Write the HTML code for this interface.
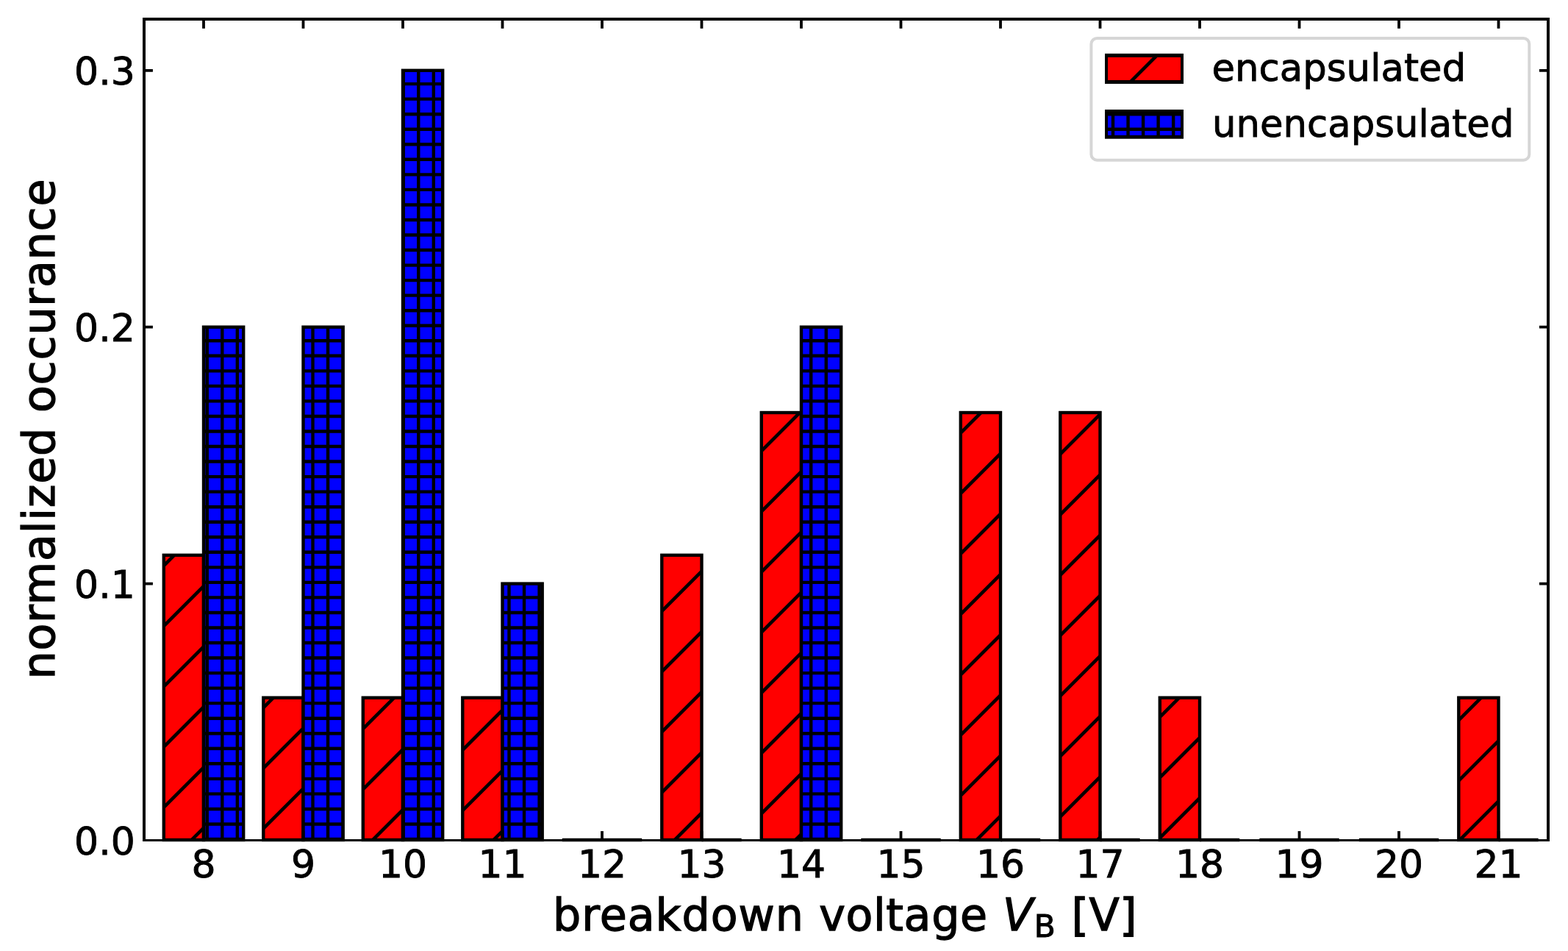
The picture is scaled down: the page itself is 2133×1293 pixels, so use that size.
<!DOCTYPE html>
<html><head><meta charset="utf-8"><title>breakdown voltage histogram</title>
<style>html,body{margin:0;padding:0;background:#fff;overflow:hidden}svg{display:block}</style>
</head><body>
<svg width="2133" height="1293" viewBox="0 0 2133 1293" font-family="'DejaVu Sans', 'Liberation Sans', sans-serif" font-size="52">
<defs><clipPath id="c1"><rect x="222.8" y="754.83" width="54.2" height="387.17"/></clipPath><clipPath id="c2"><rect x="358.3" y="948.67" width="54.2" height="193.33"/></clipPath><clipPath id="c3"><rect x="493.8" y="948.67" width="54.2" height="193.33"/></clipPath><clipPath id="c4"><rect x="629.3" y="948.67" width="54.2" height="193.33"/></clipPath><clipPath id="c5"><rect x="900.3" y="754.83" width="54.2" height="387.17"/></clipPath><clipPath id="c6"><rect x="1035.8" y="561" width="54.2" height="581"/></clipPath><clipPath id="c7"><rect x="1306.8" y="561" width="54.2" height="581"/></clipPath><clipPath id="c8"><rect x="1442.3" y="561" width="54.2" height="581"/></clipPath><clipPath id="c9"><rect x="1577.8" y="948.67" width="54.2" height="193.33"/></clipPath><clipPath id="c10"><rect x="1984.3" y="948.67" width="54.2" height="193.33"/></clipPath><clipPath id="c11"><rect x="277" y="444.7" width="54.2" height="697.3"/></clipPath><clipPath id="c12"><rect x="412.5" y="444.7" width="54.2" height="697.3"/></clipPath><clipPath id="c13"><rect x="548" y="95.8" width="54.2" height="1046.2"/></clipPath><clipPath id="c14"><rect x="683.5" y="793.6" width="54.2" height="348.4"/></clipPath><clipPath id="c15"><rect x="1090" y="444.7" width="54.2" height="697.3"/></clipPath><clipPath id="c16"><rect x="1507" y="77.85" width="99" height="31.1"/></clipPath><clipPath id="c17"><rect x="1507" y="154" width="99" height="29.9"/></clipPath></defs>
<rect width="2133" height="1293" fill="#fff"/>
<rect x="222.8" y="754.83" width="54.2" height="387.17" fill="#ff0000"/>
<path clip-path="url(#c1)" d="M216.8 775.1L283 708.9M216.8 857.25L283 791.05M216.8 939.4L283 873.2M216.8 1021.55L283 955.35M216.8 1103.7L283 1037.5M216.8 1185.85L283 1119.65" stroke="#000" stroke-width="4.6" fill="none"/>
<rect x="222.8" y="754.83" width="54.2" height="387.17" fill="none" stroke="#000" stroke-width="4.4" stroke-linejoin="miter"/>
<rect x="358.3" y="948.67" width="54.2" height="193.33" fill="#ff0000"/>
<path clip-path="url(#c2)" d="M352.3 968.2L418.5 902M352.3 1050.35L418.5 984.15M352.3 1132.5L418.5 1066.3" stroke="#000" stroke-width="4.6" fill="none"/>
<rect x="358.3" y="948.67" width="54.2" height="193.33" fill="none" stroke="#000" stroke-width="4.4" stroke-linejoin="miter"/>
<rect x="493.8" y="948.67" width="54.2" height="193.33" fill="#ff0000"/>
<path clip-path="url(#c3)" d="M487.8 997L554 930.8M487.8 1079.15L554 1012.95M487.8 1161.3L554 1095.1" stroke="#000" stroke-width="4.6" fill="none"/>
<rect x="493.8" y="948.67" width="54.2" height="193.33" fill="none" stroke="#000" stroke-width="4.4" stroke-linejoin="miter"/>
<rect x="629.3" y="948.67" width="54.2" height="193.33" fill="#ff0000"/>
<path clip-path="url(#c4)" d="M623.3 1025.8L689.5 959.6M623.3 1107.95L689.5 1041.75M623.3 1190.1L689.5 1123.9" stroke="#000" stroke-width="4.6" fill="none"/>
<rect x="629.3" y="948.67" width="54.2" height="193.33" fill="none" stroke="#000" stroke-width="4.4" stroke-linejoin="miter"/>
<path d="M764.8 1142H819" stroke="#000" stroke-width="4.4" fill="none"/>
<rect x="900.3" y="754.83" width="54.2" height="387.17" fill="#ff0000"/>
<path clip-path="url(#c5)" d="M894.3 836.95L960.5 770.75M894.3 919.1L960.5 852.9M894.3 1001.25L960.5 935.05M894.3 1083.4L960.5 1017.2M894.3 1165.55L960.5 1099.35" stroke="#000" stroke-width="4.6" fill="none"/>
<rect x="900.3" y="754.83" width="54.2" height="387.17" fill="none" stroke="#000" stroke-width="4.4" stroke-linejoin="miter"/>
<rect x="1035.8" y="561" width="54.2" height="581" fill="#ff0000"/>
<path clip-path="url(#c6)" d="M1029.8 619.3L1096 553.1M1029.8 701.45L1096 635.25M1029.8 783.6L1096 717.4M1029.8 865.75L1096 799.55M1029.8 947.9L1096 881.7M1029.8 1030.05L1096 963.85M1029.8 1112.2L1096 1046M1029.8 1194.35L1096 1128.15" stroke="#000" stroke-width="4.6" fill="none"/>
<rect x="1035.8" y="561" width="54.2" height="581" fill="none" stroke="#000" stroke-width="4.4" stroke-linejoin="miter"/>
<path d="M1171.3 1142H1225.5" stroke="#000" stroke-width="4.4" fill="none"/>
<rect x="1306.8" y="561" width="54.2" height="581" fill="#ff0000"/>
<path clip-path="url(#c7)" d="M1300.8 594.75L1367 528.55M1300.8 676.9L1367 610.7M1300.8 759.05L1367 692.85M1300.8 841.2L1367 775M1300.8 923.35L1367 857.15M1300.8 1005.5L1367 939.3M1300.8 1087.65L1367 1021.45M1300.8 1169.8L1367 1103.6" stroke="#000" stroke-width="4.6" fill="none"/>
<rect x="1306.8" y="561" width="54.2" height="581" fill="none" stroke="#000" stroke-width="4.4" stroke-linejoin="miter"/>
<rect x="1442.3" y="561" width="54.2" height="581" fill="#ff0000"/>
<path clip-path="url(#c8)" d="M1436.3 623.55L1502.5 557.35M1436.3 705.7L1502.5 639.5M1436.3 787.85L1502.5 721.65M1436.3 870L1502.5 803.8M1436.3 952.15L1502.5 885.95M1436.3 1034.3L1502.5 968.1M1436.3 1116.45L1502.5 1050.25M1436.3 1198.6L1502.5 1132.4" stroke="#000" stroke-width="4.6" fill="none"/>
<rect x="1442.3" y="561" width="54.2" height="581" fill="none" stroke="#000" stroke-width="4.4" stroke-linejoin="miter"/>
<rect x="1577.8" y="948.67" width="54.2" height="193.33" fill="#ff0000"/>
<path clip-path="url(#c9)" d="M1571.8 980.95L1638 914.75M1571.8 1063.1L1638 996.9M1571.8 1145.25L1638 1079.05" stroke="#000" stroke-width="4.6" fill="none"/>
<rect x="1577.8" y="948.67" width="54.2" height="193.33" fill="none" stroke="#000" stroke-width="4.4" stroke-linejoin="miter"/>
<path d="M1713.3 1142H1767.5" stroke="#000" stroke-width="4.4" fill="none"/>
<path d="M1848.8 1142H1903" stroke="#000" stroke-width="4.4" fill="none"/>
<rect x="1984.3" y="948.67" width="54.2" height="193.33" fill="#ff0000"/>
<path clip-path="url(#c10)" d="M1978.3 985.2L2044.5 919M1978.3 1067.35L2044.5 1001.15M1978.3 1149.5L2044.5 1083.3" stroke="#000" stroke-width="4.6" fill="none"/>
<rect x="1984.3" y="948.67" width="54.2" height="193.33" fill="none" stroke="#000" stroke-width="4.4" stroke-linejoin="miter"/>
<rect x="277" y="444.7" width="54.2" height="697.3" fill="#0000ff"/>
<path clip-path="url(#c11)" d="M281.75 441.7V1145M302.29 441.7V1145M322.82 441.7V1145M274 442.73H334.2M274 463.26H334.2M274 483.8H334.2M274 504.34H334.2M274 524.88H334.2M274 545.41H334.2M274 565.95H334.2M274 586.49H334.2M274 607.03H334.2M274 627.56H334.2M274 648.1H334.2M274 668.64H334.2M274 689.18H334.2M274 709.71H334.2M274 730.25H334.2M274 750.79H334.2M274 771.33H334.2M274 791.86H334.2M274 812.4H334.2M274 832.94H334.2M274 853.48H334.2M274 874.01H334.2M274 894.55H334.2M274 915.09H334.2M274 935.62H334.2M274 956.16H334.2M274 976.7H334.2M274 997.24H334.2M274 1017.78H334.2M274 1038.31H334.2M274 1058.85H334.2M274 1079.39H334.2M274 1099.93H334.2M274 1120.46H334.2M274 1141H334.2" stroke="#000" stroke-width="4.4" fill="none"/>
<rect x="277" y="444.7" width="54.2" height="697.3" fill="none" stroke="#000" stroke-width="4.4" stroke-linejoin="miter"/>
<rect x="412.5" y="444.7" width="54.2" height="697.3" fill="#0000ff"/>
<path clip-path="url(#c12)" d="M425.51 441.7V1145M446.05 441.7V1145M466.59 441.7V1145M409.5 442.73H469.7M409.5 463.26H469.7M409.5 483.8H469.7M409.5 504.34H469.7M409.5 524.88H469.7M409.5 545.41H469.7M409.5 565.95H469.7M409.5 586.49H469.7M409.5 607.03H469.7M409.5 627.56H469.7M409.5 648.1H469.7M409.5 668.64H469.7M409.5 689.18H469.7M409.5 709.71H469.7M409.5 730.25H469.7M409.5 750.79H469.7M409.5 771.33H469.7M409.5 791.86H469.7M409.5 812.4H469.7M409.5 832.94H469.7M409.5 853.48H469.7M409.5 874.01H469.7M409.5 894.55H469.7M409.5 915.09H469.7M409.5 935.62H469.7M409.5 956.16H469.7M409.5 976.7H469.7M409.5 997.24H469.7M409.5 1017.78H469.7M409.5 1038.31H469.7M409.5 1058.85H469.7M409.5 1079.39H469.7M409.5 1099.93H469.7M409.5 1120.46H469.7M409.5 1141H469.7" stroke="#000" stroke-width="4.4" fill="none"/>
<rect x="412.5" y="444.7" width="54.2" height="697.3" fill="none" stroke="#000" stroke-width="4.4" stroke-linejoin="miter"/>
<rect x="548" y="95.8" width="54.2" height="1046.2" fill="#0000ff"/>
<path clip-path="url(#c13)" d="M548.74 92.8V1145M569.28 92.8V1145M589.81 92.8V1145M545 93.59H605.2M545 114.12H605.2M545 134.66H605.2M545 155.2H605.2M545 175.74H605.2M545 196.28H605.2M545 216.81H605.2M545 237.35H605.2M545 257.89H605.2M545 278.43H605.2M545 298.96H605.2M545 319.5H605.2M545 340.04H605.2M545 360.58H605.2M545 381.11H605.2M545 401.65H605.2M545 422.19H605.2M545 442.73H605.2M545 463.26H605.2M545 483.8H605.2M545 504.34H605.2M545 524.88H605.2M545 545.41H605.2M545 565.95H605.2M545 586.49H605.2M545 607.03H605.2M545 627.56H605.2M545 648.1H605.2M545 668.64H605.2M545 689.18H605.2M545 709.71H605.2M545 730.25H605.2M545 750.79H605.2M545 771.33H605.2M545 791.86H605.2M545 812.4H605.2M545 832.94H605.2M545 853.48H605.2M545 874.01H605.2M545 894.55H605.2M545 915.09H605.2M545 935.62H605.2M545 956.16H605.2M545 976.7H605.2M545 997.24H605.2M545 1017.78H605.2M545 1038.31H605.2M545 1058.85H605.2M545 1079.39H605.2M545 1099.93H605.2M545 1120.46H605.2M545 1141H605.2" stroke="#000" stroke-width="4.4" fill="none"/>
<rect x="548" y="95.8" width="54.2" height="1046.2" fill="none" stroke="#000" stroke-width="4.4" stroke-linejoin="miter"/>
<rect x="683.5" y="793.6" width="54.2" height="348.4" fill="#0000ff"/>
<path clip-path="url(#c14)" d="M692.5 790.6V1145M713.04 790.6V1145M733.58 790.6V1145M680.5 791.86H740.7M680.5 812.4H740.7M680.5 832.94H740.7M680.5 853.48H740.7M680.5 874.01H740.7M680.5 894.55H740.7M680.5 915.09H740.7M680.5 935.62H740.7M680.5 956.16H740.7M680.5 976.7H740.7M680.5 997.24H740.7M680.5 1017.78H740.7M680.5 1038.31H740.7M680.5 1058.85H740.7M680.5 1079.39H740.7M680.5 1099.93H740.7M680.5 1120.46H740.7M680.5 1141H740.7" stroke="#000" stroke-width="4.4" fill="none"/>
<rect x="683.5" y="793.6" width="54.2" height="348.4" fill="none" stroke="#000" stroke-width="4.4" stroke-linejoin="miter"/>
<path d="M819 1142H873.2" stroke="#000" stroke-width="4.4" fill="none"/>
<path d="M954.5 1142H1008.7" stroke="#000" stroke-width="4.4" fill="none"/>
<rect x="1090" y="444.7" width="54.2" height="697.3" fill="#0000ff"/>
<path clip-path="url(#c15)" d="M1103.25 441.7V1145M1123.79 441.7V1145M1144.33 441.7V1145M1087 442.73H1147.2M1087 463.26H1147.2M1087 483.8H1147.2M1087 504.34H1147.2M1087 524.88H1147.2M1087 545.41H1147.2M1087 565.95H1147.2M1087 586.49H1147.2M1087 607.03H1147.2M1087 627.56H1147.2M1087 648.1H1147.2M1087 668.64H1147.2M1087 689.18H1147.2M1087 709.71H1147.2M1087 730.25H1147.2M1087 750.79H1147.2M1087 771.33H1147.2M1087 791.86H1147.2M1087 812.4H1147.2M1087 832.94H1147.2M1087 853.48H1147.2M1087 874.01H1147.2M1087 894.55H1147.2M1087 915.09H1147.2M1087 935.62H1147.2M1087 956.16H1147.2M1087 976.7H1147.2M1087 997.24H1147.2M1087 1017.78H1147.2M1087 1038.31H1147.2M1087 1058.85H1147.2M1087 1079.39H1147.2M1087 1099.93H1147.2M1087 1120.46H1147.2M1087 1141H1147.2" stroke="#000" stroke-width="4.4" fill="none"/>
<rect x="1090" y="444.7" width="54.2" height="697.3" fill="none" stroke="#000" stroke-width="4.4" stroke-linejoin="miter"/>
<path d="M1225.5 1142H1279.7" stroke="#000" stroke-width="4.4" fill="none"/>
<path d="M1361 1142H1415.2" stroke="#000" stroke-width="4.4" fill="none"/>
<path d="M1496.5 1142H1550.7" stroke="#000" stroke-width="4.4" fill="none"/>
<path d="M1632 1142H1686.2" stroke="#000" stroke-width="4.4" fill="none"/>
<path d="M1767.5 1142H1821.7" stroke="#000" stroke-width="4.4" fill="none"/>
<path d="M1903 1142H1957.2" stroke="#000" stroke-width="4.4" fill="none"/>
<path d="M2038.5 1142H2092.7" stroke="#000" stroke-width="4.4" fill="none"/>
<rect x="194" y="24" width="4" height="1120" fill="#000"/>
<rect x="2104" y="24" width="4" height="1120" fill="#000"/>
<rect x="194" y="24" width="1914" height="4" fill="#000"/>
<rect x="194" y="1141" width="1914" height="3" fill="#000"/>
<path d="M277 26V38.8M277 1142.5V1130.05M412.5 26V38.8M412.5 1142.5V1130.05M548 26V38.8M548 1142.5V1130.05M683.5 26V38.8M683.5 1142.5V1130.05M819 26V38.8M819 1142.5V1130.05M954.5 26V38.8M954.5 1142.5V1130.05M1090 26V38.8M1090 1142.5V1130.05M1225.5 26V38.8M1225.5 1142.5V1130.05M1361 26V38.8M1361 1142.5V1130.05M1496.5 26V38.8M1496.5 1142.5V1130.05M1632 26V38.8M1632 1142.5V1130.05M1767.5 26V38.8M1767.5 1142.5V1130.05M1903 26V38.8M1903 1142.5V1130.05M2038.5 26V38.8M2038.5 1142.5V1130.05M196 793.6H207.9M2106 793.6H2093.95M196 444.7H207.9M2106 444.7H2093.95M196 95.8H207.9M2106 95.8H2093.95" stroke="#000" stroke-width="3.8" fill="none"/>
<g stroke="#000" stroke-width="0.9"><text x="277" y="1192.6" text-anchor="middle">8</text>
<text x="412.5" y="1192.6" text-anchor="middle">9</text>
<text x="548" y="1192.6" text-anchor="middle">10</text>
<text x="683.5" y="1192.6" text-anchor="middle">11</text>
<text x="819" y="1192.6" text-anchor="middle">12</text>
<text x="954.5" y="1192.6" text-anchor="middle">13</text>
<text x="1090" y="1192.6" text-anchor="middle">14</text>
<text x="1225.5" y="1192.6" text-anchor="middle">15</text>
<text x="1361" y="1192.6" text-anchor="middle">16</text>
<text x="1496.5" y="1192.6" text-anchor="middle">17</text>
<text x="1632" y="1192.6" text-anchor="middle">18</text>
<text x="1767.5" y="1192.6" text-anchor="middle">19</text>
<text x="1903" y="1192.6" text-anchor="middle">20</text>
<text x="2038.5" y="1192.6" text-anchor="middle">21</text>
<text x="183.75" y="1161.5" text-anchor="end">0.0</text>
<text x="183.75" y="812.6" text-anchor="end">0.1</text>
<text x="183.75" y="463.7" text-anchor="end">0.2</text>
<text x="183.75" y="114.8" text-anchor="end">0.3</text></g>
<text x="752.07" y="1264.55" font-size="60.3" textLength="340.9" lengthAdjust="spacing" stroke="#000" stroke-width="1.3">breakdown</text>
<text x="1114.15" y="1264.55" font-size="60.3" textLength="229.01" lengthAdjust="spacing" stroke="#000" stroke-width="1.3">voltage</text>
<text x="1364.04" y="1264.55" font-size="60.3" font-style="italic" stroke="#000" stroke-width="1.3">V</text>
<text x="1406.71" y="1274.0" font-size="42.21" stroke="#000" stroke-width="1.04">B</text>
<text x="1457.47" y="1264.55" font-size="60.3" textLength="89.06" lengthAdjust="spacing" stroke="#000" stroke-width="1.3">[V]</text>
<text transform="translate(74.3 923.53) rotate(-90)" font-size="60.3" textLength="680.09" lengthAdjust="spacing" stroke="#000" stroke-width="1.3">normalized occurance</text>
<rect x="1484.4" y="51.9" width="595.9" height="165.9" rx="8" ry="8" fill="#fff" stroke="#d6d6d6" stroke-width="4"/>
<rect x="1503" y="72.85" width="107" height="41.1" fill="#000"/>
<rect x="1507" y="77.85" width="99" height="31.1" fill="#ff0000"/>
<path clip-path="url(#c16)" d="M1501 148.1L1612 37.1" stroke="#000" stroke-width="4.6" fill="none"/>
<rect x="1503" y="149" width="107" height="39.7" fill="#000"/>
<rect x="1507" y="154" width="99" height="29.9" fill="#0000ff"/>
<path clip-path="url(#c17)" d="M1514 151V186.9M1534.54 151V186.9M1555.08 151V186.9M1575.61 151V186.9M1596.15 151V186.9M1504 155.2H1609M1504 175.74H1609" stroke="#000" stroke-width="4.4" fill="none"/>
<text x="1648.45" y="110.45" font-size="51.2" textLength="345.71" lengthAdjust="spacing" stroke="#000" stroke-width="0.9">encapsulated</text>
<text x="1648.9" y="186.45" font-size="51.2" textLength="410.5" lengthAdjust="spacing" stroke="#000" stroke-width="0.9">unencapsulated</text>
</svg>
</body></html>
